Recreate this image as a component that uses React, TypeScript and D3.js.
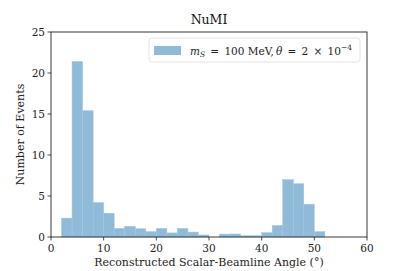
import { scaleLinear } from "d3";

// histogram: bins of 2 degrees, from 2 to 52
const binEdgesStart = 2;
const binWidth = 2;
const counts = [
  2.3, 21.4, 15.4, 4.2, 2.9, 1.05, 1.3, 1.0, 0.65, 1.05, 0.5, 1.05, 0.6, 0.25,
  0, 0.35, 0.37, 0.15, 0.15, 0.53, 1.4, 7.0, 6.5, 4.0, 0.65,
];
const xTicks = [0, 10, 20, 30, 40, 50, 60];
const yTicks = [0, 5, 10, 15, 20, 25];

const W = 407;
const H = 271;
const margin = { top: 32, right: 40, bottom: 34, left: 51 };
const font = "'DejaVu Serif', 'Liberation Serif', serif";
const barColor = "#8fbbd9";

export default function App() {
  const x = scaleLinear().domain([0, 60]).range([margin.left, W - margin.right]);
  const y = scaleLinear().domain([0, 25]).range([H - margin.bottom, margin.top]);
  const bars = counts.map((c, i) => ({
    x0: binEdgesStart + i * binWidth,
    x1: binEdgesStart + (i + 1) * binWidth,
    c,
  }));
  const [x0, x1] = x.range();
  const [y0, y1] = y.range();

  return (
    <svg
      width={W}
      height={H}
      style={{ position: "absolute", left: 0, top: 0, fontFamily: font }}
    >
      <rect width={W} height={H} fill="white" />
      {bars
        .filter((b) => b.c > 0)
        .map((b) => (
          <rect
            key={b.x0}
            x={x(b.x0)}
            y={y(b.c)}
            width={x(b.x1) - x(b.x0)}
            height={y(0) - y(b.c)}
            fill={barColor}
            stroke="#9fc6e0"
            strokeWidth={0.5}
          />
        ))}
      <rect
        x={x0}
        y={y1}
        width={x1 - x0}
        height={y0 - y1}
        fill="none"
        stroke="#222"
        strokeWidth={0.9}
      />
      {xTicks.map((t) => (
        <g key={`x${t}`} transform={`translate(${x(t)},${y0})`}>
          <line y2={3.5} stroke="#222" strokeWidth={0.8} />
          <text y={15} textAnchor="middle" fontSize={10.5} fill="#222">
            {t}
          </text>
        </g>
      ))}
      {yTicks.map((t) => (
        <g key={`y${t}`} transform={`translate(${x0},${y(t)})`}>
          <line x2={-3.5} stroke="#222" strokeWidth={0.8} />
          <text x={-6} dy={4} textAnchor="end" fontSize={10.5} fill="#222">
            {t}
          </text>
        </g>
      ))}
      <text x={(x0 + x1) / 2} y={24} textAnchor="middle" fontSize={12.5} fill="#111">
        NuMI
      </text>
      <text
        x={(x0 + x1) / 2}
        y={266}
        textAnchor="middle"
        fontSize={11}
        fill="#222"
      >
        Reconstructed Scalar-Beamline Angle (°)
      </text>
      <text
        transform={`translate(24,${(y0 + y1) / 2}) rotate(-90)`}
        textAnchor="middle"
        fontSize={11}
        fill="#222"
      >
        Number of Events
      </text>
      <g>
        <rect
          x={149}
          y={38}
          width={211}
          height={24}
          rx={3}
          fill="white"
          fillOpacity={0.8}
          stroke="#ddd"
          strokeWidth={0.8}
        />
        <rect x={154} y={46} width={27} height={9} fill={barColor} />
        <text x={190} y={55} fontSize={10.5} fill="#222">
          <tspan fontStyle="italic">m</tspan>
          <tspan fontStyle="italic" fontSize={7.5} dy={2}>S</tspan>
          <tspan dy={-2}>{"\u2002=\u2002100 MeV,\u2009"}</tspan>
          <tspan fontStyle="italic">θ</tspan>
          <tspan>{"\u2002=\u20022\u2002×\u200210"}</tspan>
          <tspan fontSize={7.5} dy={-5}>−4</tspan>
        </text>
      </g>
    </svg>
  );
}
